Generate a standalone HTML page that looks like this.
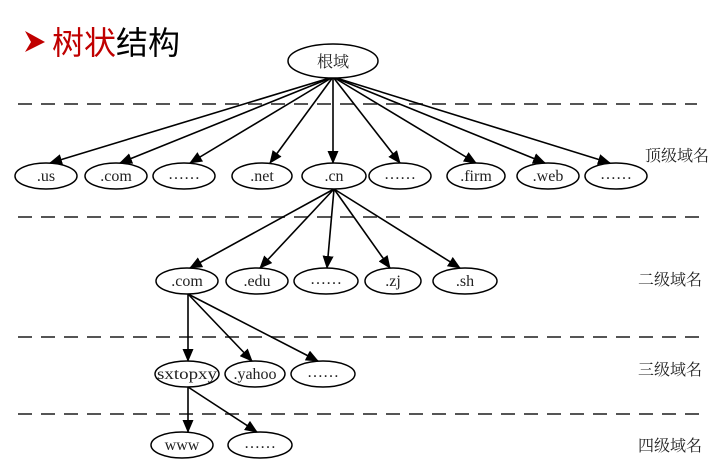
<!DOCTYPE html>
<html><head><meta charset="utf-8"><style>
body{margin:0;background:#fff;width:727px;height:471px;overflow:hidden}
svg text{font-family:"Liberation Serif","Noto Serif CJK SC",serif;font-size:16px;fill:#222}
</style></head><body>
<svg width="727" height="471" xmlns="http://www.w3.org/2000/svg">
<defs><marker id="a" markerWidth="13" markerHeight="11" refX="12" refY="5.5" orient="auto" markerUnits="userSpaceOnUse"><path d="M0,0L13,5.5L0,11z" fill="#000"/></marker></defs>
<path d="M25,31 L45,42 L25,52 L31,42 Z" fill="#c00000"/>
<text x="52" y="54" style="font-family:'Liberation Sans','Noto Sans CJK SC',sans-serif;font-size:32px;fill:#c00000">树状<tspan fill="#000">结构</tspan></text>
<g stroke="#555" stroke-width="2" stroke-dasharray="14,9">
<line x1="18" y1="104" x2="697" y2="104"/><line x1="18" y1="217" x2="700" y2="217"/>
<line x1="18" y1="337" x2="700" y2="337"/><line x1="18" y1="414" x2="700" y2="414"/></g>
<g stroke="#000" stroke-width="1.6" fill="none" marker-end="url(#a)">
<line x1="333" y1="77" x2="50" y2="163"/><line x1="333" y1="77" x2="120" y2="163"/>
<line x1="333" y1="77" x2="190" y2="163"/><line x1="333" y1="77" x2="270" y2="163"/>
<line x1="333" y1="77" x2="333" y2="163"/><line x1="333" y1="77" x2="400" y2="163"/>
<line x1="333" y1="77" x2="476" y2="163"/><line x1="333" y1="77" x2="545" y2="163"/>
<line x1="333" y1="77" x2="610" y2="163"/>
<line x1="334" y1="189" x2="190" y2="268"/><line x1="334" y1="189" x2="260" y2="268"/>
<line x1="334" y1="189" x2="327" y2="268"/><line x1="334" y1="189" x2="390" y2="268"/>
<line x1="334" y1="189" x2="460" y2="268"/>
<line x1="188" y1="294" x2="188" y2="361"/><line x1="188" y1="294" x2="252" y2="361"/>
<line x1="188" y1="294" x2="318" y2="361"/>
<line x1="188" y1="387" x2="188" y2="432"/><line x1="188" y1="387" x2="257" y2="432"/>
</g>
<g stroke="#000" stroke-width="1.5" fill="#fff">
<ellipse cx="333" cy="61" rx="45" ry="17"/>
<ellipse cx="46" cy="176" rx="31" ry="13"/><ellipse cx="116" cy="176" rx="31" ry="13"/>
<ellipse cx="184" cy="176" rx="31" ry="13"/><ellipse cx="262" cy="176" rx="30" ry="13"/>
<ellipse cx="334" cy="176" rx="32" ry="13"/><ellipse cx="400" cy="176" rx="31" ry="13"/>
<ellipse cx="476" cy="176" rx="29" ry="13"/><ellipse cx="548" cy="176" rx="31" ry="13"/>
<ellipse cx="616" cy="176" rx="31" ry="13"/>
<ellipse cx="187" cy="281" rx="31" ry="13"/><ellipse cx="257" cy="281" rx="31" ry="13"/>
<ellipse cx="326" cy="281" rx="32" ry="13"/><ellipse cx="393" cy="281" rx="28" ry="13"/>
<ellipse cx="465" cy="281" rx="32" ry="13"/>
<ellipse cx="187" cy="374" rx="32" ry="13"/><ellipse cx="255" cy="374" rx="30" ry="13"/>
<ellipse cx="323" cy="374" rx="32" ry="13"/>
<ellipse cx="182" cy="445" rx="31" ry="13"/><ellipse cx="260" cy="445" rx="32" ry="13"/>
</g>
<g text-anchor="middle">
<text x="333" y="67">根域</text>
<text x="46" y="181">.us</text><text x="116" y="181">.com</text><text x="184" y="179">……</text>
<text x="262" y="181">.net</text><text x="334" y="181">.cn</text><text x="400" y="179">……</text>
<text x="476" y="181">.firm</text><text x="548" y="181">.web</text><text x="616" y="179">……</text>
<text x="187" y="286">.com</text><text x="257" y="286">.edu</text><text x="326" y="284">……</text>
<text x="393" y="286">.zj</text><text x="465" y="286">.sh</text>
<text x="187" y="379" textLength="60" lengthAdjust="spacingAndGlyphs">sxtopxy</text><text x="255" y="379">.yahoo</text><text x="323" y="377">……</text>
<text x="182" y="450">www</text><text x="260" y="448">……</text>
</g>
<text x="645" y="161">顶级域名</text>
<text x="638" y="285">二级域名</text>
<text x="638" y="375">三级域名</text>
<text x="638" y="451">四级域名</text>
</svg>
</body></html>
